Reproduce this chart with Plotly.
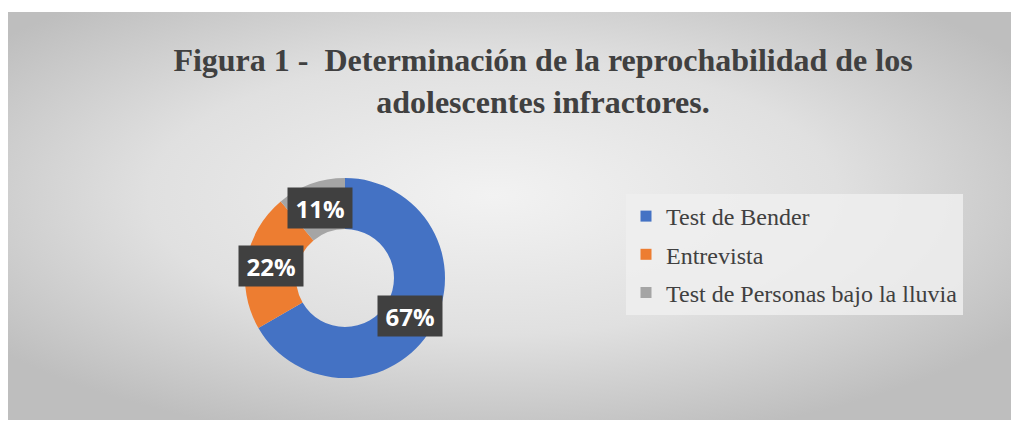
import base64
import plotly.graph_objects as go

# Data
categorias = ['Test de Bender', 'Entrevista', 'Test de Personas bajo la lluvia']
valores = [6, 2, 1]
colores = ['#4472C4', '#ED7D31', '#A5A5A5']
etiquetas = ['67%', '22%', '11%']

W, H = 1011, 413   # page body adds an 8px margin
OX, OY = 8, 8


def px_x(x):
    return (x - OX) / W


def px_y(y):
    return 1 - (y - OY) / H


# radial gray gradient background (chart area)
svg = '''<svg xmlns="http://www.w3.org/2000/svg" width="1011" height="408" viewBox="0 0 1011 408">
<defs><radialGradient id="g" cx="48%" cy="45%" r="62%">
<stop offset="0%" stop-color="#f2f2f2"/><stop offset="55%" stop-color="#e0e0e0"/>
<stop offset="100%" stop-color="#bebebe"/></radialGradient></defs>
<rect width="1011" height="408" fill="url(#g)"/></svg>'''
bg_src = 'data:image/svg+xml;base64,' + base64.b64encode(svg.encode()).decode()

fig = go.Figure()

fig.add_trace(go.Pie(
    labels=categorias, values=valores, hole=0.49, sort=False,
    direction='clockwise', rotation=0,
    marker=dict(colors=colores, line=dict(width=0)),
    textinfo='none', hoverinfo='label+percent', showlegend=False,
    domain=dict(x=[px_x(245), px_x(445)], y=[px_y(378), px_y(178)]),
))

# legend entries (one group each so the spacing can be set)
for i, (cat, col) in enumerate(zip(categorias, colores)):
    fig.add_trace(go.Scatter(
        x=[None], y=[None], mode='markers', name=cat,
        marker=dict(symbol='square', size=11, color=col),
        legendgroup=f'g{i}',
    ))

# dark label boxes
label_pos = [(410, 316), (271, 266), (320, 208)]
for txt, (lx, ly) in zip(etiquetas, label_pos):
    fig.add_annotation(
        x=px_x(lx), y=px_y(ly), xref='paper', yref='paper',
        xanchor='center', yanchor='middle',
        text=f'<b>{txt}</b>', showarrow=False,
        font=dict(family='Open Sans, DejaVu Sans, sans-serif', size=24, color='white'),
        bgcolor='#404040', borderpad=5, width=54, height=30,
    )

fig.update_layout(
    width=W, height=H,
    margin=dict(l=0, r=0, t=0, b=0),
    paper_bgcolor='white', plot_bgcolor='rgba(0,0,0,0)',
    xaxis=dict(visible=False), yaxis=dict(visible=False),
    images=[dict(source=bg_src, xref='paper', yref='paper',
                 x=0, y=px_y(12), sizex=1, sizey=408 / H,
                 sizing='stretch', layer='below', xanchor='left', yanchor='top')],
    title=dict(
        text='<b>Figura 1 -  Determinación de la reprochabilidad de los<br>adolescentes infractores.</b>',
        x=px_x(543), xanchor='center', y=px_y(71), yanchor='top',
        font=dict(family='Liberation Serif, Times New Roman, serif', size=32, color='#404040'),
    ),
    legend=dict(
        x=px_x(626), y=px_y(194), xanchor='left', yanchor='top',
        bgcolor='rgba(238,238,238,0.85)',
        font=dict(family='Liberation Serif, Times New Roman, serif', size=24, color='#404040'),
        tracegroupgap=4, itemwidth=30,
    ),
    showlegend=True,
)

fig.write_html('out.html')
